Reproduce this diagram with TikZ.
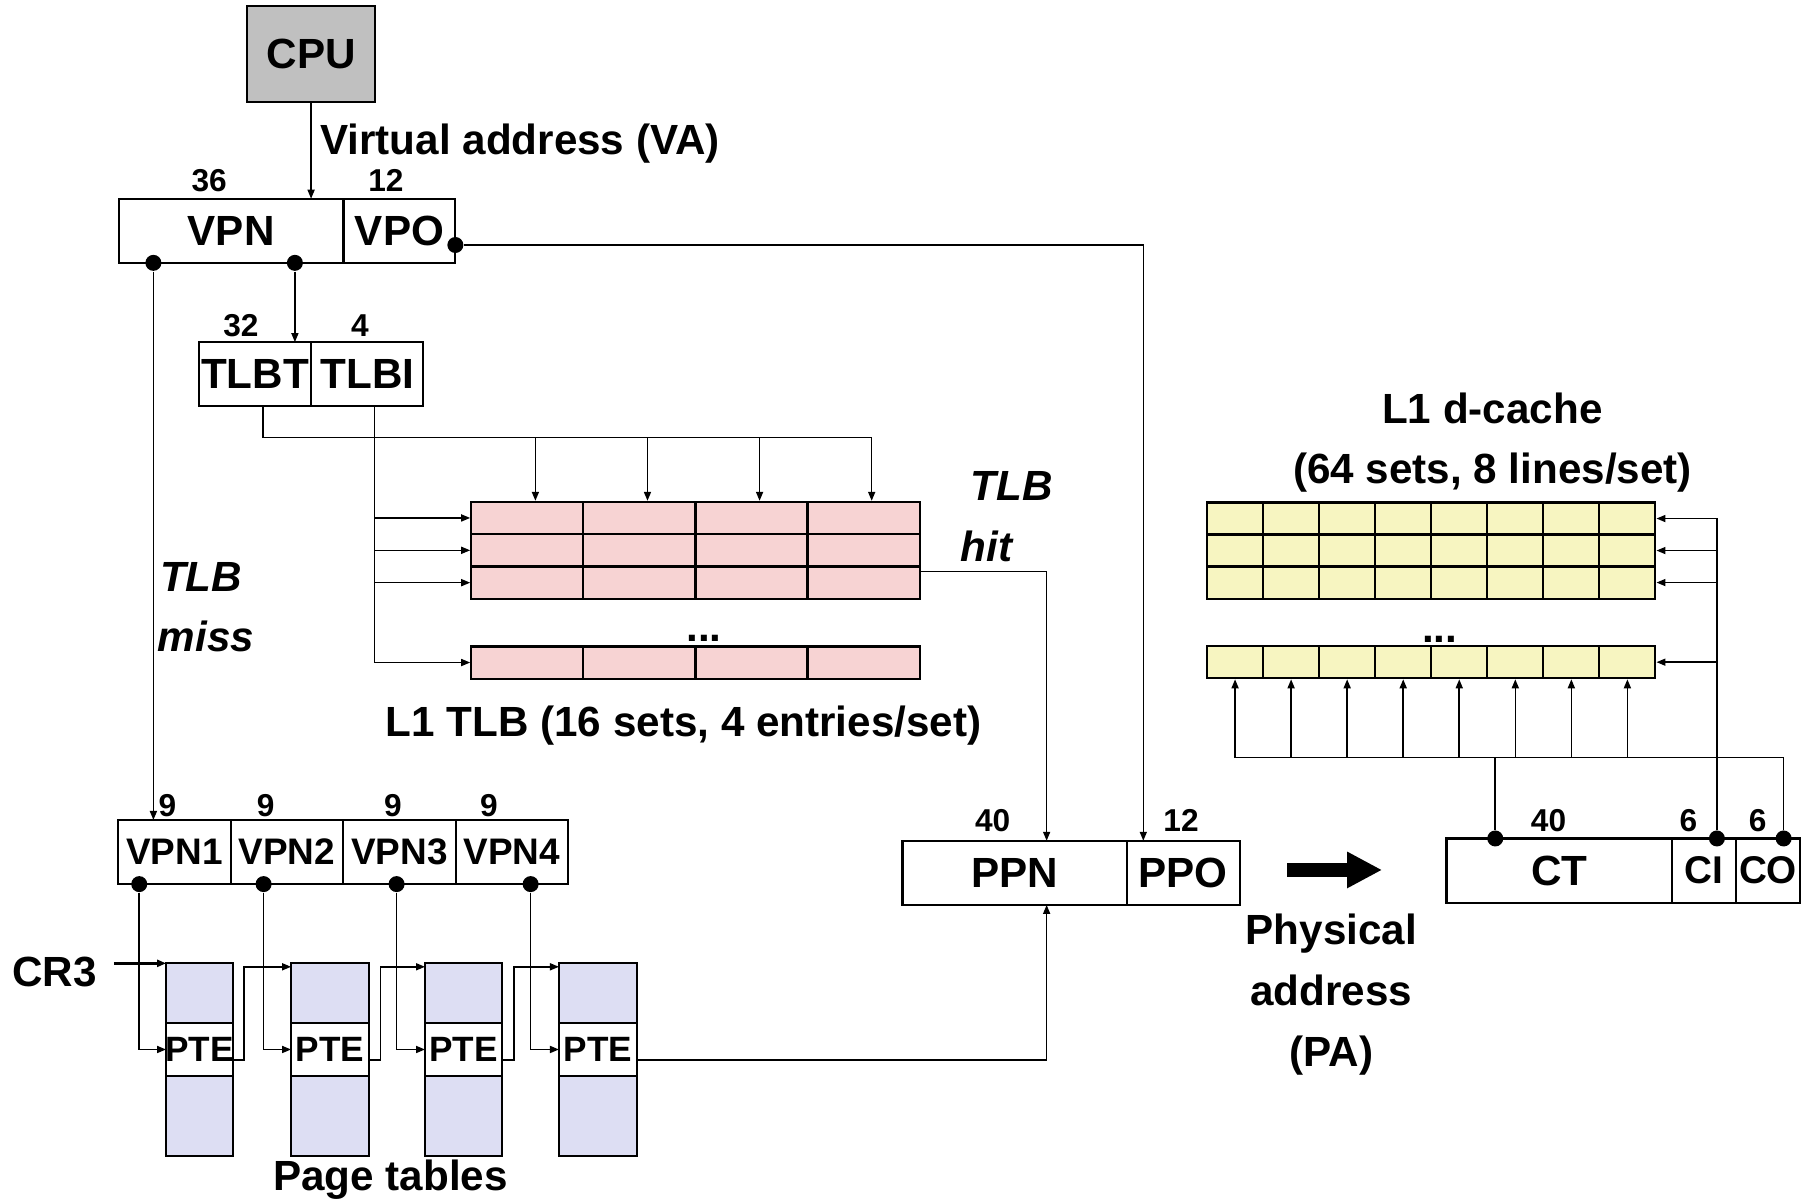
\documentclass[tikz,border=0pt]{standalone}
\usepackage{fontspec}
\setmainfont{Liberation Sans}
\usetikzlibrary{positioning, arrows.meta, calc}
\definecolor{cpugray}{RGB}{192,192,192}
\definecolor{tlbpink}{RGB}{247,211,211}
\definecolor{cacheyellow}{RGB}{247,245,193}
\definecolor{ptlavender}{RGB}{221,222,243}
\newcommand{\unitpx}{0.011556cm}
\newcommand{\lblfont}{\fontsize{12}{14}\selectfont\bfseries}
\newcommand{\midfont}{\fontsize{10.5}{12}\selectfont\bfseries}
\newcommand{\ptefont}{\fontsize{10}{12}\selectfont\bfseries}
\newcommand{\cifont}{\fontsize{11}{13}\selectfont\bfseries}
\newcommand{\bitfont}{\fontsize{9}{10}\selectfont\bfseries}
\newcommand{\italfont}{\fontsize{12}{14}\selectfont\bfseries\itshape}

\begin{document}
\begin{tikzpicture}[
  x=\unitpx, y=-\unitpx,
  field/.style={draw, line width=0.6pt, inner sep=0pt, outer sep=0pt,
                minimum height=55.5*\unitpx, font=\lblfont},
  wd/.style={minimum width=#1*\unitpx},
  bits/.style={font=\bitfont, inner sep=0pt},
  lbl/.style={font=\lblfont, inner sep=0pt},
  ital/.style={font=\italfont, inner sep=0pt},
  tlbcell/.style={draw, fill=tlbpink, line width=0.6pt, inner sep=0pt,
                  minimum width=97*\unitpx, minimum height=27.8*\unitpx},
  cachecell/.style={draw, fill=cacheyellow, line width=0.6pt, inner sep=0pt,
                    minimum width=48.5*\unitpx, minimum height=27.8*\unitpx},
  ptcell/.style={draw, fill=ptlavender, line width=0.6pt, inner sep=0pt, outer sep=0pt},
  joint/.style={circle, fill, inner sep=0pt, minimum size=0.16cm},
  conn/.style={line width=0.45pt},
  arr/.style={conn, -{Triangle[length=0.9mm, width=0.7mm]}},
  fat/.style={line width=3.8pt, -{Triangle[length=3.5mm, width=3.4mm]}}
]
  \useasboundingbox (0,0) rectangle (1568,1038);

  \node[field, wd=110.5, minimum height=83.3*\unitpx, fill=cpugray] (cpu) at (269.2,46.9) {CPU};
  \node[lbl, anchor=base west] (valbl) at (276.6,134) {Virtual address (VA)};

  \node[field, wd=194.5] (vpn) at (200,199.7) {VPN};
  \node[field, wd=96.8, right=0pt of vpn] (vpo) {VPO};
  \node[bits] (vpnbits) at (181,156) {36};
  \node[bits] (vpobits) at (334,156) {12};

  \node[field, wd=97.5] (tlbt) at (220.7,323.8) {TLBT};
  \node[field, wd=96.9, right=0pt of tlbt] (tlbi) {TLBI};
  \node[bits] (tlbtbits) at (208.5,282) {32};
  \node[bits] (tlbibits) at (311.5,282) {4};

  \foreach \r/\y in {0/448.2, 1/476.2, 2/504.2, 3/573.3}
    \foreach \c in {0,...,3}
      \node[tlbcell] (tlb-\r-\c) at ({456.3+97*\c},\y) {};
  \node[lbl, anchor=base] (tlbdots) at ($(tlb-3-1.north east)+(6.5,-3)$) {...};
  \node[lbl, anchor=base] (tlbname) at (591.5,637.5) {L1 TLB (16 sets, 4 entries/set)};

  \node[ital, anchor=base west] (misstop) at (138,512) {TLB};
  \node[ital, anchor=base west] (missbot) at (136,564) {miss};
  \node[ital, anchor=base west] (hittop) at (839.4,432.7) {TLB};
  \node[ital, anchor=base west] (hitbot) at (830.7,486) {hit};

  \node[field, wd=97.3, font=\midfont] (vpn1) at (151,737.3) {VPN1};
  \node[field, wd=97.3, font=\midfont, right=0pt of vpn1] (vpn2) {VPN2};
  \node[field, wd=97.3, font=\midfont, right=0pt of vpn2] (vpn3) {VPN3};
  \node[field, wd=97.3, font=\midfont, right=0pt of vpn3] (vpn4) {VPN4};
  \node[bits] (vpn1bits) at (144.9,697) {9};
  \node[bits] (vpn2bits) at (229.9,697) {9};
  \node[bits] (vpn3bits) at (340,697) {9};
  \node[bits] (vpn4bits) at (423,697) {9};

  \foreach \k/\x/\w in {1/172.5/57.6, 2/285.5/67.2, 3/401.2/66.8, 4/517.5/67.6} {
    \node[ptcell, minimum width=\w*\unitpx, minimum height=51.9*\unitpx] (pt\k) at (\x,859.55) {};
    \node[ptcell, fill=white, minimum width=\w*\unitpx, minimum height=45.3*\unitpx,
          font=\ptefont, below=0pt of pt\k] (pte\k) {\makebox[0pt]{PTE}};
    \node[ptcell, minimum width=\w*\unitpx, minimum height=69.6*\unitpx,
          below=0pt of pte\k] (ptb\k) {};
  }
  \node[lbl, anchor=base] (ptname) at (338,1030) {Page tables};
  \node[lbl, anchor=base] (cr3) at (47,853.8) {CR3};
  \coordinate (cr3in) at (98.5,833.6);

  \node[field, wd=194] (ppn) at (878,755.3) {PPN};
  \node[field, wd=97.7, right=0pt of ppn] (ppo) {PPO};
  \node[bits] (ppnbits) at (859,710) {40};
  \node[bits] (ppobits) at (1022,710) {12};

  \coordinate (pafrom) at (1113.7,752.8);
  \coordinate (pato) at (1196,752.8);
  \node[lbl, align=center, anchor=north, font={\fontsize{12}{17.4}\selectfont\bfseries}]
    (palbl) at (1152,790) {Physical\\address\\(PA)};

  \node[field, wd=194.9] (ct) at (1349.2,753.3) {CT};
  \node[field, wd=55.5, font=\cifont, right=0pt of ct] (ci) {CI};
  \node[field, wd=55.6, font=\cifont, right=0pt of ci] (co) {CO};
  \node[bits] (ctbits) at (1340,710) {40};
  \node[bits] (cibits) at (1461,710) {6};
  \node[bits] (cobits) at (1521,710) {6};

  \foreach \r/\y in {0/448.7, 1/476.4, 2/504.1, 3/573}
    \foreach \c in {0,...,7}
      \node[cachecell] (cache-\r-\c) at ({1068.75+48.5*\c},\y) {};
  \node[lbl, anchor=base] (cachedots) at ($(cache-3-3.north east)+(6.5,-2)$) {...};
  \node[lbl, anchor=base] (cachename) at (1291.4,366.3) {L1 d-cache};
  \node[lbl, anchor=base] (cacheinfo) at (1291.5,418.3) {(64 sets, 8 lines/set)};

  \node[joint] (missdot) at ($(vpn.south west)+(30,0)$) {};
  \node[joint] (tlbdot) at ($(vpn.south)+(55.2,0)$) {};
  \node[joint] (vpodot) at ($(vpo.east)+(0,12.3)$) {};
  \node[joint] (vdot1) at ($(vpn1.south)+(-30.5,0)$) {};
  \node[joint] (vdot2) at ($(vpn2.south)+(-20.2,0)$) {};
  \node[joint] (vdot3) at ($(vpn3.south)+(-2.4,0)$) {};
  \node[joint] (vdot4) at ($(vpn4.south)+(16.3,0)$) {};
  \node[joint] (ctdot) at ($(ct.north)+(-55.3,0)$) {};
  \node[joint] (cidot) at ($(ci.north)+(11.3,0)$) {};
  \node[joint] (codot) at ($(co.north)+(13.5,0)$) {};

  \draw[arr] (cpu) -- (cpu.south |- vpn.north);
  \draw[arr] (tlbdot) -- (tlbdot |- tlbt.north);
  \draw[arr] (missdot) -- (missdot |- vpn1.north);
  \draw[arr] (vpodot) -| ($(ppo.north)+(-34.5,0)$);

  \draw[conn] ($(tlbt.south)+(7,0)$) |- ($(tlb-0-3.north)+(7,-54.8)$);
  \foreach \c in {0,...,3}
    \draw[arr] ($(tlb-0-\c.north)+(7,-54.8)$) -- ($(tlb-0-\c.north)+(7,0)$);
  \coordinate (tlbidrop) at ($(tlbi.south)+(6.3,0)$);
  \draw[arr] (tlbidrop) |- (tlb-3-0.west);
  \foreach \r in {0,1,2}
    \draw[arr] (tlbidrop |- tlb-\r-0.west) -- (tlb-\r-0.west);
  \draw[arr] ($(tlb-2-3.north east)+(0,5)$) -| ($(ppn.north)+(27.7,0)$);

  \draw[arr] (vdot1) |- (pte1.west);
  \draw[arr] (vdot2) |- (pte2.west);
  \draw[arr] (vdot3) |- (pte3.west);
  \draw[arr] (vdot4) |- (pte4.west);
  \foreach \k/\n in {1/2, 2/3, 3/4}
    \draw[arr] ($(pte\k.east)+(0,9)$) -- ++(10,0) |- ($(pt\n.north west)+(0,3)$);
  \draw[arr] ($(pte4.east)+(0,9)$) -| ($(ppn.south)+(27.7,0)$);
  \draw[arr, line width=0.7pt] (cr3in) -- (pt1.north west);

  \draw[fat] (pafrom) -- (pato);

  \draw[arr] (cidot) |- (cache-0-7.east);
  \foreach \r in {1,2,3}
    \draw[arr] (cidot |- cache-\r-7.east) -- (cache-\r-7.east);
  \coordinate (cbus) at ($(ctdot)+(0,-70)$);
  \draw[conn] (ctdot) -- (cbus);
  \draw[conn] (codot) |- (cbus -| cache-3-0.south);
  \foreach \c in {0,...,7}
    \draw[arr] (cbus -| cache-3-\c.south) -- (cache-3-\c.south);
\end{tikzpicture}
\end{document}
